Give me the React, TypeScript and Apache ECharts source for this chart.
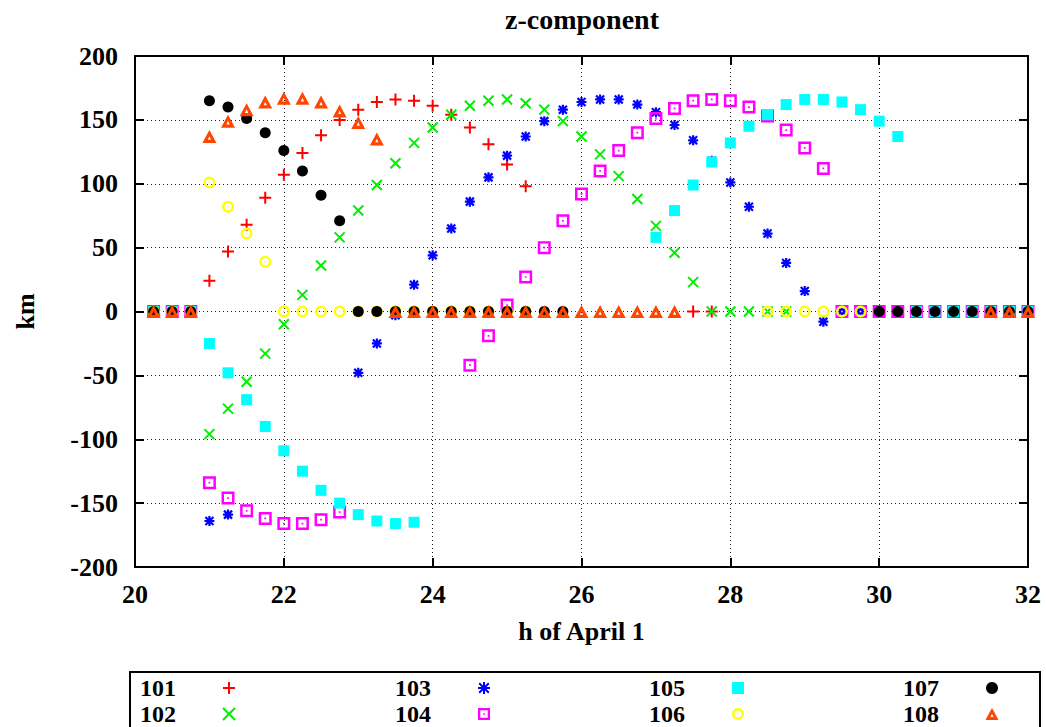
import React, { useEffect, useRef } from "react";
import * as echarts from "echarts";

const TIMES = [
  20.25, 20.5, 20.75, 21, 21.25, 21.5, 21.75, 22, 22.25, 22.5, 22.75, 23,
  23.25, 23.5, 23.75, 24, 24.25, 24.5, 24.75, 25, 25.25, 25.5, 25.75, 26,
  26.25, 26.5, 26.75, 27, 27.25, 27.5, 27.75, 28, 28.25, 28.5, 28.75, 29,
  29.25, 29.5, 29.75, 30, 30.25, 30.5, 30.75, 31, 31.25, 31.5, 31.75, 32,
];

const N = null;

const S101 = [0, 0, 0, 24, 47, 68, 89, 107, 124, 138, 150, 158, 164, 166, 165, 161, 154, 144, 131, 115, 98,
  N, N, N, N, N, N, N, N, 0, 0,
  N, N, N, N, N, N, N, N, N, N, N, N, N, N, N, N, N];
const S102 = [0, 0, 0, -96, -76, -55, -33, -10, 13, 36, 58, 79, 99, 116, 132, 144, 154, 161, 165, 166, 163,
  158, 149, 137, 123, 106, 88, 67, 46, 23, 0, 0, 0, 0, 0,
  N, N, N, N, N, N, N, N, N, N, N, N, N];
const S103 = [0, 0, 0, -164, -159, N, N, N, N, N, N,
  -48, -25, -3, 21, 44, 65, 86, 105, 122, 137, 149, 158, 164, 166, 166, 162, 156, 146, 134, 118, 101, 82, 61, 38, 16, -8,
  0, 0, N, N, N, N, N, N, N, N, N];
const S104 = [0, 0, 0, -134, -146, -156, -162, -166, -166, -163, -157,
  N, N, N, N, N, N,
  -42, -19, 5, 27, 50, 71, 92, 110, 126, 140, 151, 159, 165, 166, 165, 160, 153, 142, 128, 112,
  0, 0, 0, 0, 0, 0, 0, 0, 0, 0, 0];
const S105 = [0, 0, 0, -25, -48, -69, -90, -109, -125, -140, -150, -159, -164, -166, -165,
  N, N, N, N, N, N, N, N, N, N, N, N,
  58, 79, 99, 117, 132, 145, 154, 162, 166, 166, 164, 158, 149, 137,
  0, 0, 0, 0, 0, 0, 0];
const S106 = [0, 0, 0, 101, 82, 61, 39,
  0, 0, 0, 0, 0, 0, 0, 0, 0, 0, 0, 0, 0, 0,
  N, N, N, N, N, N, N, N, N, N, N, N,
  0, 0, 0, 0, 0, 0,
  N, N, N, N, N, N, N, N, N];
const S107 = [0, 0, 0, 165, 160, 151, 140, 126, 110, 91, 71,
  0, 0, 0, 0, 0, 0, 0, 0, 0, 0, 0, 0,
  N, N, N, N, N, N, N, N, N, N, N, N, N, N, N, N,
  0, 0, 0, 0, 0, 0, 0, 0, 0];
const S108 = [0, 0, 0, 137, 149, 158, 164, 167, 167, 164, 157, 148, 135,
  0, 0, 0, 0, 0, 0, 0, 0, 0, 0, 0, 0, 0, 0, 0, 0,
  N, N, N, N, N, N, N, N, N, N, N, N, N, N, N, N,
  0, 0, 0];

const NAMES = ["101", "102", "103", "104", "105", "106", "107", "108"];
const VALUES = [S101, S102, S103, S104, S105, S106, S107, S108];
const X_TICKS = { min: 20, max: 32, interval: 2 };
const Y_TICKS = { min: -200, max: 200, interval: 50 };

const PLUS = "path://M0,5 L10,5 M5,0 L5,10";
const CROSS = "path://M0,0 L10,10 M0,10 L10,0";
const STAR = "path://M0,5 L10,5 M5,0 L5,10 M1,1 L9,9 M1,9 L9,1";
const SQ_RING = "path://M0,0 L12,0 L12,12 L0,12 Z M2.3,2.3 L2.3,9.7 L9.7,9.7 L9.7,2.3 Z M5.2,5.2 L6.8,5.2 L6.8,6.8 L5.2,6.8 Z";
const SQ_FULL = "path://M0,0 L10,0 L10,10 L0,10 Z";
const CIRC_RING = "path://M6,0 A6,6 0 1,1 6,12 A6,6 0 1,1 6,0 Z M6,2.4 A3.6,3.6 0 1,0 6,9.6 A3.6,3.6 0 1,0 6,2.4 Z M6,5.2 A0.8,0.8 0 1,1 6,6.8 A0.8,0.8 0 1,1 6,5.2 Z";
const TRI_RING = "path://M6,0 L12,11 L0,11 Z M6,5.2 L4.6,8.3 L7.4,8.3 Z";

const STYLES = [
  { color: "#ff0000", symbol: PLUS, size: 12, bw: 2 },
  { color: "#00ee00", symbol: CROSS, size: 10, bw: 2 },
  { color: "#0000ff", symbol: STAR, size: 10, bw: 2.2 },
  { color: "#ff00ff", symbol: SQ_RING, size: 13, bw: 0 },
  { color: "#00ffff", symbol: SQ_FULL, size: 11, bw: 0 },
  { color: "#ffff00", symbol: CIRC_RING, size: 12, bw: 0 },
  { color: "#000000", symbol: "circle", size: 11, bw: 0 },
  { color: "#ff4500", symbol: TRI_RING, size: [14, 13], bw: 0 },
];

const FONT = "Liberation Serif";
const txt = { fontFamily: FONT, fontWeight: "bold", fontSize: 26, color: "#000" };

export default function App() {
  const ref = useRef<HTMLDivElement>(null);
  useEffect(() => {
    if (!ref.current) return;
    const chart = echarts.init(ref.current, null, { renderer: "svg" });

    const series = NAMES.map((name, k) => {
      const vals = VALUES[k];
      const data: number[][] = [];
      TIMES.forEach((t, i) => {
        const v = vals[i];
        if (v !== null && v !== undefined) data.push([t, v]);
      });
      const st = STYLES[k];
      return {
        type: "scatter",
        name,
        data,
        symbol: st.symbol,
        symbolSize: st.size,
        itemStyle: {
          color: st.color,
          borderColor: st.color,
          borderWidth: st.bw,
          opacity: 1,
        },
        emphasis: { disabled: true },
        z: 2 + k * 0.01,
      };
    });

    const legendLefts = [140, 395, 649, 903];
    const legends = [0, 1, 2, 3].map((c) => ({
      orient: "vertical",
      left: legendLefts[c],
      top: 676,
      height: 80,
      padding: 0,
      itemGap: 2,
      itemWidth: 96,
      itemHeight: 12,
      align: "right",
      selectedMode: false,
      data: [NAMES[2 * c], NAMES[2 * c + 1]],
      textStyle: { ...txt, fontSize: 24, lineHeight: 24 },
    }));

    const axisLine = { show: true, onZero: false, lineStyle: { color: "#000", width: 2 } };
    const axisTick = { show: true, inside: true, length: 9, lineStyle: { color: "#000", width: 2 } };
    const splitLine = { show: true, lineStyle: { color: "#222", width: 1, type: [1, 3] } };

    chart.setOption({
      animation: false,
      backgroundColor: "#fff",
      title: {
        text: "z-component",
        left: 500,
        top: 0,
        textStyle: { ...txt, fontSize: 28 },
      },
      grid: { left: 135, right: 18, top: 56, bottom: 160, containLabel: false },
      xAxis: [
        {
          type: "value",
          ...X_TICKS,
          position: "bottom",
          axisLine,
          axisTick,
          splitLine,
          axisLabel: { ...txt, margin: 14 },
          name: "h of April 1",
          nameLocation: "middle",
          nameGap: 51,
          nameTextStyle: { ...txt },
        },
        {
          type: "value",
          ...X_TICKS,
          position: "top",
          axisLine,
          axisTick,
          splitLine: { show: false },
          axisLabel: { show: false },
        },
      ],
      yAxis: [
        {
          type: "value",
          ...Y_TICKS,
          position: "left",
          axisLine,
          axisTick,
          splitLine,
          axisLabel: { ...txt, margin: 17 },
          name: "km",
          nameLocation: "middle",
          nameRotate: 90,
          nameGap: 97,
          nameTextStyle: { ...txt },
        },
        {
          type: "value",
          ...Y_TICKS,
          position: "right",
          axisLine,
          axisTick,
          splitLine: { show: false },
          axisLabel: { show: false },
        },
      ],
      legend: legends,
      graphic: [
        {
          type: "rect",
          shape: { x: 130, y: 672, width: 910, height: 70 },
          style: { fill: "none", stroke: "#000", lineWidth: 2 },
          silent: true,
        },
      ],
      series,
    });
    return () => chart.dispose();
  }, []);
  return (
    <div
      ref={ref}
      style={{ position: "fixed", left: 0, top: 0, width: 1046, height: 727, background: "#fff" }}
    />
  );
}
